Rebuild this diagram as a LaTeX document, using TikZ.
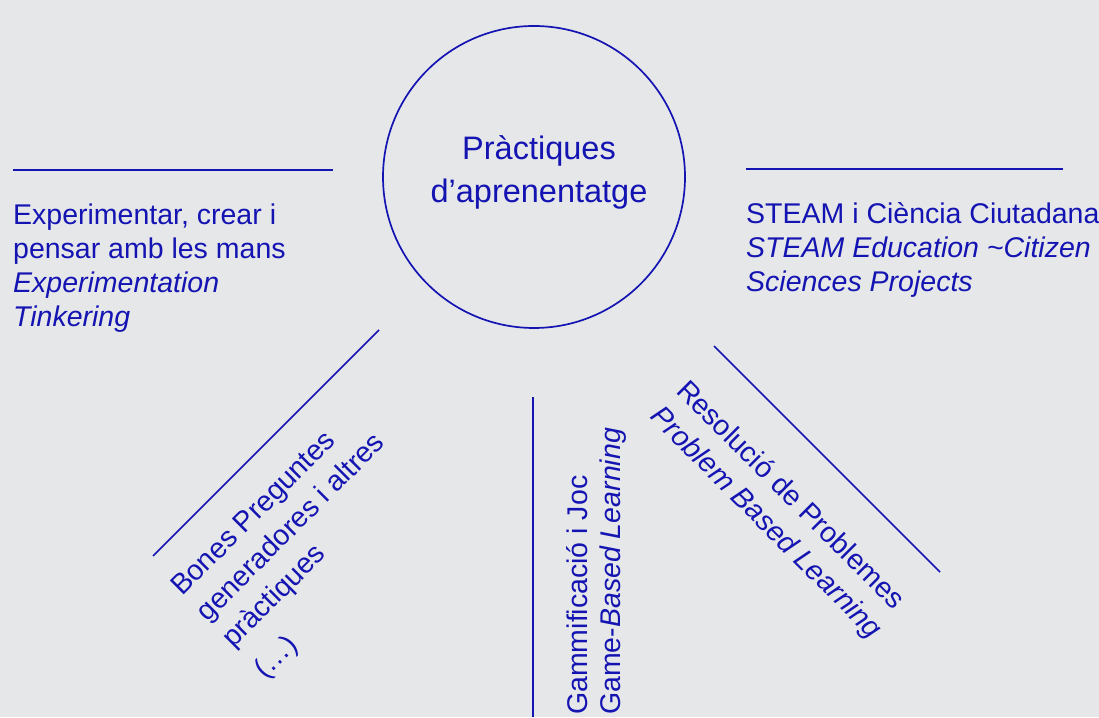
\documentclass[tikz,border=0pt]{standalone}
\usepackage{fontspec}
\setmainfont{Liberation Sans}
\definecolor{inkblue}{RGB}{20,20,178}
\definecolor{paper}{RGB}{230,231,233}

\begin{document}
\begin{tikzpicture}[x=1pt,y=1pt]
	\tikzset{txt/.style={inner sep=0pt, text=inkblue, align=left, font=\fontsize{28.5}{34.3}\selectfont},
		rule/.style={draw=inkblue, line width=1.7pt}}
	\fill[paper] (0,0) rectangle (1099,717);
	\useasboundingbox (0,0) rectangle (1099,717);
	
	\node[circle, rule, minimum size=302pt, inner sep=0pt](C) at (534,540) {};
	\node[txt, align=center, font=\fontsize{32.5}{43}\selectfont, anchor=base](title) at (539,514) {Pràctiques\\d’aprenentatge};
	
	\coordinate (expA) at (13,547);
	\coordinate (expB) at (333,547);
	\draw[rule] (expA)--(expB);
	\node[txt, anchor=base west](exp) at (13,390) {Experimentar, crear i\\pensar amb les mans\\\textit{Experimentation}\\\textit{Tinkering}};
	
	\coordinate (steamA) at (746,548);
	\coordinate (steamB) at (1063,548);
	\draw[rule] (steamA)--(steamB);
	\node[txt, anchor=base west](steam) at (746,425) {STEAM i Ciència Ciutadana\\\textit{STEAM Education \textasciitilde Citizen}\\\textit{Sciences Projects}};
	
	\coordinate (bonesA) at (153,161);
	\coordinate (bonesB) at (379,387);
	\draw[rule] (bonesA)--(bonesB);
	\node[txt, rotate=45, anchor=base west, font=\fontsize{28.5}{36.5}\selectfont](bones) at (265.1,36.9) {Bones Preguntes\\generadores i altres\\pràctiques\\[8pt](…)};
	
	\coordinate (jocA) at (533,0);
	\coordinate (jocB) at (533,320);
	\draw[rule] (jocA)--(jocB);
	\node[txt, rotate=90, anchor=base west, font=\fontsize{28.5}{33}\selectfont](joc) at (620,2) {Gammificació i Joc\\Game-\textit{Based Learning}};
	
	\coordinate (probA) at (714,371);
	\coordinate (probB) at (940,145);
	\draw[rule] (probA)--(probB);
	\node[txt, rotate=-45, anchor=base west, font=\fontsize{28.5}{36.5}\selectfont](prob) at (649.2,299.2) {Resolució de Problemes\\\textit{Problem Based Learning}};
\end{tikzpicture}
\end{document}
